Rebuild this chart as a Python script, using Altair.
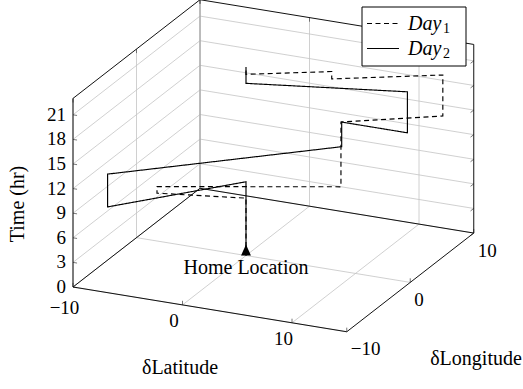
import altair as alt
import pandas as pd

# ---------------- data ----------------
series = ["Day", "Day"]
series_sub = ["1", "2"]
day1_lat = [0, 0, -7.2, -7.2, 6.7, 6.7, 13.8, 13.8, 5.8, 5.8, 0, 0]
day1_lon = [0, 0, -1.6, -1.6, 3.4, 3.4, 7.2, 7.2, 3.5, 3.5, 0, 0]
day1_hr = [0, 7, 7, 7.8, 7.8, 15.7, 15.7, 20.7, 20.7, 21.6, 22.1, 23]
day2_lat = [0, 0, -8, -8, 7, 7, 13, 13, 0, 0]
day2_lon = [0, 0, -8, -8, 3, 3, 3, 3, 0, 0]
day2_hr = [0, 9, 9, 13, 13, 16, 16, 21, 21, 23]
home_lat, home_lon, home_hr = [0], [0], [0]
home_label = ["Home Location"]
lat_ticks = [-10, 0, 10]
lon_ticks = [-10, 0, 10]
hr_ticks = [0, 3, 6, 9, 12, 15, 18, 21]
lat_range = [-10, 15]
lon_range = [-10, 10]
hr_range = [0, 23]
axis_titles = ["δLatitude", "δLongitude", "Time (hr)"]

# ---------------- projection (view of the 3-D box) ----------------
W, H = 523, 389
ORIGIN = (73.0, 287.0)
LAT_VEC = (10.95, 1.79)
LON_VEC = (6.35, -4.935)
HR_VEC = (0.0, -8.2)
FONT = "Liberation Serif"


def proj(lat, lon, hr):
    a = lat - lat_range[0]
    b = lon - lon_range[0]
    return (ORIGIN[0] + a * LAT_VEC[0] + b * LON_VEC[0] + hr * HR_VEC[0],
            ORIGIN[1] + a * LAT_VEC[1] + b * LON_VEC[1] + hr * HR_VEC[1])


def segs(pairs):
    rows = []
    for p, q in pairs:
        x1, y1 = proj(*p)
        x2, y2 = proj(*q)
        rows.append({"X": x1, "Y": y1, "X2": x2, "Y2": y2})
    return pd.DataFrame(rows)


xs = alt.Scale(domain=[0, W], nice=False, zero=False)
ys = alt.Scale(domain=[0, H], nice=False, zero=False, reverse=True)


def enc_xy(**kw):
    return dict(x=alt.X("X:Q", scale=xs, axis=None),
                y=alt.Y("Y:Q", scale=ys, axis=None), **kw)


L0, L1 = lat_range
O0, O1 = lon_range
Z0, Z1 = hr_range

# grid lines on the three back faces
grid = []
for h in hr_ticks:
    if h > Z0:
        grid.append(((L0, O0, h), (L0, O1, h)))   # left wall
        grid.append(((L0, O1, h), (L1, O1, h)))   # back wall
for o in lon_ticks:
    grid.append(((L0, o, Z0), (L0, o, Z1)))       # left wall verticals
    grid.append(((L0, o, Z0), (L1, o, Z0)))       # floor
for la in lat_ticks:
    grid.append(((la, O1, Z0), (la, O1, Z1)))     # back wall verticals
    grid.append(((la, O0, Z0), (la, O1, Z0)))     # floor
grid_df = segs(grid)

edges = [
    ((L0, O0, Z0), (L1, O0, Z0)),
    ((L1, O0, Z0), (L1, O1, Z0)),
    ((L1, O1, Z0), (L1, O1, Z1)),
    ((L1, O1, Z1), (L0, O1, Z1)),
    ((L0, O1, Z1), (L0, O0, Z1)),
    ((L0, O0, Z1), (L0, O0, Z0)),
    ((L0, O0, Z0), (L0, O1, Z0)),
    ((L0, O1, Z0), (L1, O1, Z0)),
]
edge_df = segs(edges)
back_df = segs([((L0, O1, Z0), (L0, O1, Z1))])

ticks = []
for h in hr_ticks:
    ticks.append(((L0, O0, h), (L0 + 0.37, O0, h)))
    ticks.append(((L1, O1, h), (L1, O1 - 0.5, h)))
for o in lon_ticks:
    ticks.append(((L1, o, Z0), (L1, o, Z0 + 0.5)))
    ticks.append(((L0, o, Z1), (L0, o, Z1 - 0.5)))
for la in lat_ticks:
    ticks.append(((la, O0, Z0), (la, O0, Z0 + 0.5)))
    ticks.append(((la, O1, Z1), (la, O1, Z1 - 0.5)))
tick_df = segs(ticks)

# trajectories
rows = []
for name, lats, lons, hrs in [("Day1", day1_lat, day1_lon, day1_hr),
                              ("Day2", day2_lat, day2_lon, day2_hr)]:
    for i, (la, lo, h) in enumerate(zip(lats, lons, hrs)):
        x, y = proj(la, lo, h)
        rows.append({"day": name, "seq": i, "X": x, "Y": y})
path_df = pd.DataFrame(rows)

hx, hy = proj(home_lat[0], home_lon[0], home_hr[0])
home_df = pd.DataFrame({"X": [hx], "Y": [hy], "label": home_label})


def fmt(v):
    return str(v).replace("-", "\u2212")


zlab = pd.DataFrame([{"t": fmt(h), "X": proj(L0, O0, h)[0], "Y": proj(L0, O0, h)[1]} for h in hr_ticks])
xlab = pd.DataFrame([{"t": fmt(v), "X": proj(v, O0, Z0)[0], "Y": proj(v, O0, Z0)[1]} for v in lat_ticks])
ylab = pd.DataFrame([{"t": fmt(v), "X": proj(L1, v, Z0)[0], "Y": proj(L1, v, Z0)[1]} for v in lon_ticks])

# ---------------- layers ----------------
grid_layer = alt.Chart(grid_df).mark_rule(color="#c4c4c4", strokeWidth=0.8).encode(
    **enc_xy(x2="X2:Q", y2="Y2:Q"))
back_layer = alt.Chart(back_df).mark_rule(color="#9a9a9a", strokeWidth=0.9).encode(
    **enc_xy(x2="X2:Q", y2="Y2:Q"))
edge_layer = alt.Chart(edge_df).mark_rule(color="#111111", strokeWidth=1.0).encode(
    **enc_xy(x2="X2:Q", y2="Y2:Q"))
tick_layer = alt.Chart(tick_df).mark_rule(color="#555555", strokeWidth=0.8).encode(
    **enc_xy(x2="X2:Q", y2="Y2:Q"))

path_layer = alt.Chart(path_df).mark_line(color="black", strokeWidth=1.15).encode(
    **enc_xy(detail="day:N", order="seq:Q",
             strokeDash=alt.StrokeDash("day:N", scale=alt.Scale(domain=["Day1", "Day2"],
                                                                range=[[5, 3.5], [1, 0]]),
                                       legend=None)))

home_pt = alt.Chart(home_df).mark_point(shape="M-0.9,0L0.9,0L0,-2Z", filled=True, size=121,
                                        color="black", opacity=1).encode(**enc_xy())
home_txt = alt.Chart(home_df).mark_text(font=FONT, fontSize=20, dy=12, baseline="middle",
                                        color="black").encode(**enc_xy(text="label:N"))

TICK_FS = 19
zlab_layer = alt.Chart(zlab).mark_text(font=FONT, fontSize=TICK_FS, align="right", baseline="middle",
                                       dx=-7, dy=0).encode(**enc_xy(text="t:N"))
# the first latitude label sits lower (as in the original) so it clears the "0" hour label
xlab_first = alt.Chart(xlab.iloc[:1]).mark_text(font=FONT, fontSize=TICK_FS, align="center",
                                                baseline="middle", dx=-8.5, dy=21).encode(**enc_xy(text="t:N"))
xlab_rest = alt.Chart(xlab.iloc[1:]).mark_text(font=FONT, fontSize=TICK_FS, align="center",
                                               baseline="middle", dx=-8.5, dy=16).encode(**enc_xy(text="t:N"))
ylab_layer = alt.Chart(ylab).mark_text(font=FONT, fontSize=TICK_FS, align="left", baseline="middle",
                                       dx=4, dy=17.5).encode(**enc_xy(text="t:N"))

title_x = alt.Chart(pd.DataFrame({"t": [axis_titles[0]]})).mark_text(
    font=FONT, fontSize=20, baseline="middle").encode(x=alt.value(180), y=alt.value(368), text="t:N")
title_y = alt.Chart(pd.DataFrame({"t": [axis_titles[1]]})).mark_text(
    font=FONT, fontSize=20, baseline="middle").encode(x=alt.value(476), y=alt.value(359), text="t:N")
title_z = alt.Chart(pd.DataFrame({"t": [axis_titles[2]]})).mark_text(
    font=FONT, fontSize=20, baseline="middle", angle=270).encode(x=alt.value(18), y=alt.value(204), text="t:N")

# legend (drawn by hand to mimic the boxed pgfplots legend)
leg_box = alt.Chart(pd.DataFrame({"a": [0]})).mark_rect(fill="white", stroke="black", strokeWidth=1).encode(
    x=alt.value(362), x2=alt.value(466), y=alt.value(7), y2=alt.value(66))
leg_layers = [leg_box]
row_y = [23.5, 48.5]
dashes = [[5, 3.5], [1, 0]]
for i in range(2):
    d = pd.DataFrame({"t": [series[i]], "s": [series_sub[i]]})
    leg_layers.append(alt.Chart(d).mark_rule(color="black", strokeWidth=1.15, strokeDash=dashes[i]).encode(
        x=alt.value(367), x2=alt.value(399), y=alt.value(row_y[i])))
    leg_layers.append(alt.Chart(d).mark_text(font=FONT, fontSize=20, fontStyle="italic", align="left",
                                             baseline="middle").encode(
        x=alt.value(408), y=alt.value(row_y[i]), text="t:N"))
    leg_layers.append(alt.Chart(d).mark_text(font=FONT, fontSize=14, align="left",
                                             baseline="middle").encode(
        x=alt.value(443), y=alt.value(row_y[i] + 5), text="s:N"))

chart = alt.layer(
    grid_layer, back_layer, tick_layer, edge_layer, path_layer, home_pt, home_txt,
    zlab_layer, xlab_first, xlab_rest, ylab_layer, title_x, title_y, title_z, *leg_layers
).properties(
    width=W, height=H, padding=0, autosize=alt.AutoSizeParams(type="none")
).configure_view(stroke=None)

chart.save("out.html", embed_options={"renderer": "svg", "actions": False})
